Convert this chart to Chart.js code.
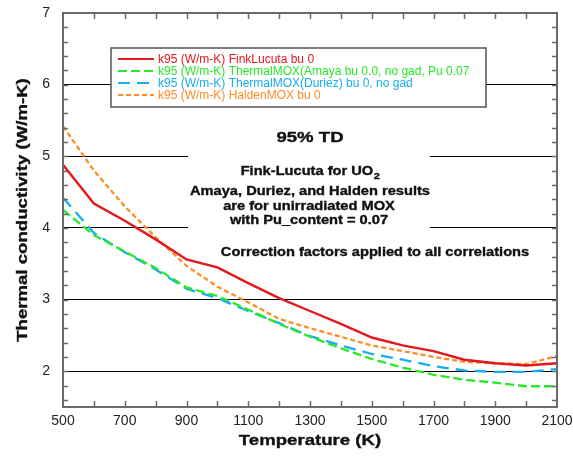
<!DOCTYPE html>
<html>
<head>
<meta charset="utf-8">
<script src="https://cdn.jsdelivr.net/npm/chart.js@4.4.1/dist/chart.umd.min.js"></script>
<style>
  html, body { margin: 0; padding: 0; background: #fff; }
  #chart { display: block; }
</style>
</head>
<body>
<canvas id="chart" width="573" height="456"></canvas>
<script>
// Temperature grid (K) and conductivity for each correlation (W/m-K)
const temperatures = [500, 600, 700, 800, 900, 1000, 1100, 1200, 1300, 1400, 1500, 1600, 1700, 1800, 1900, 2000, 2100];
const finkLucuta = [4.88, 4.34, 4.10, 3.84, 3.56, 3.45, 3.23, 3.02, 2.84, 2.66, 2.47, 2.36, 2.28, 2.16, 2.11, 2.08, 2.11];
const amayaMox = [4.25, 3.90, 3.67, 3.44, 3.17, 3.05, 2.86, 2.66, 2.48, 2.32, 2.17, 2.05, 1.95, 1.88, 1.84, 1.79, 1.79];
const duriezMox = [4.42, 3.93, 3.66, 3.42, 3.15, 3.02, 2.84, 2.67, 2.49, 2.36, 2.24, 2.16, 2.07, 2.01, 1.99, 1.99, 2.03];
const haldenMox = [5.42, 4.80, 4.30, 3.87, 3.47, 3.18, 2.96, 2.73, 2.60, 2.48, 2.36, 2.28, 2.20, 2.13, 2.11, 2.10, 2.21];

const xTickLabels = [500, 700, 900, 1100, 1300, 1500, 1700, 1900, 2100];
const yTickLabels = [2, 3, 4, 5, 6, 7];

const seriesNames = [
    'k95 (W/m-K) FinkLucuta bu 0',
    'k95 (W/m-K) ThermalMOX(Amaya bu 0.0, no gad, Pu 0.07',
    'k95 (W/m-K) ThermalMOX(Duriez) bu 0, no gad',
    'k95 (W/m-K) HaldenMOX bu 0'
];
const noteLines = [
    'Amaya, Duriez, and Halden results',
    'are for unirradiated MOX',
    'with Pu_content = 0.07'
];

const RED = 'rgb(226,24,28)';
const GREEN = 'rgb(40,232,40)';
const BLUE = 'rgb(24,172,240)';
const ORANGE = 'rgb(255,140,36)';
const FONT = '"Liberation Sans", Arial, Helvetica, sans-serif';

function points(values) {
    return temperatures.map((t, i) => ({ x: t, y: values[i] }));
}

// Bold labels are drawn slightly wide and heavy, like the original plot software
function wideText(ctx, text, x, y, size, align, stretch) {
    ctx.save();
    ctx.font = 'bold ' + size + 'px ' + FONT;
    const w = ctx.measureText(text).width * stretch;
    let left = x;
    if (align === 'center') left = x - w / 2;
    ctx.translate(left, y);
    ctx.scale(stretch, 1);
    ctx.textAlign = 'left';
    ctx.textBaseline = 'middle';
    ctx.fillText(text, 0, 0);
    ctx.strokeStyle = ctx.fillStyle;
    ctx.lineWidth = 0.35;
    ctx.strokeText(text, 0, 0);
    ctx.restore();
    return w;
}

// drop the extra room Chart.js keeps for edge labels so the plot area is exact
function noEdgePadding(scale) {
    scale.paddingLeft = 0;
    scale.paddingRight = 0;
    scale.paddingTop = 0;
    scale.paddingBottom = 0;
}

const frameAndNotes = {
    id: 'frameAndNotes',
    beforeDatasetsDraw(chart) {
        // white panel behind the notes hides the grid lines there
        const ctx = chart.ctx;
        ctx.save();
        ctx.fillStyle = '#fff';
        ctx.fillRect(188, 120, 242, 112);
        ctx.restore();
    },
    afterDraw(chart) {
        const ctx = chart.ctx;
        const area = chart.chartArea;
        const xs = chart.scales.x;
        const ys = chart.scales.y;

        // plot frame with inward ticks
        ctx.save();
        ctx.setLineDash([]);
        ctx.strokeStyle = '#6a6a6a';
        ctx.lineWidth = 1.5;
        ctx.beginPath();
        for (let t = 600; t < 2100; t += 100) {
            const px = Math.round(xs.getPixelForValue(t)) + 0.5;
            ctx.moveTo(px, area.bottom);
            ctx.lineTo(px, area.bottom - 6);
            ctx.moveTo(px, area.top);
            ctx.lineTo(px, area.top + 6);
        }
        for (let k = 8; k < 35; k++) {
            const py = Math.round(ys.getPixelForValue(k / 5)) + 0.5;
            ctx.moveTo(area.left, py);
            ctx.lineTo(area.left + 5, py);
            ctx.moveTo(area.right, py);
            ctx.lineTo(area.right - 5, py);
        }
        ctx.stroke();
        ctx.lineWidth = 2;
        ctx.beginPath();
        ctx.rect(area.left, area.top, area.right - area.left, area.bottom - area.top);
        ctx.stroke();
        ctx.restore();

        // legend box
        ctx.save();
        ctx.fillStyle = '#fff';
        ctx.fillRect(111, 48, 375, 59);
        ctx.strokeStyle = '#555';
        ctx.lineWidth = 1.5;
        ctx.strokeRect(111, 48, 375, 59);
        chart.data.datasets.forEach((ds, i) => {
            const y = 59 + i * 12;
            ctx.strokeStyle = ds.borderColor;
            ctx.lineWidth = 2;
            ctx.setLineDash(ds.borderDash || []);
            ctx.beginPath();
            ctx.moveTo(118, y);
            ctx.lineTo(154, y);
            ctx.stroke();
            ctx.setLineDash([]);
            ctx.fillStyle = ds.borderColor;
            ctx.font = '12px ' + FONT;
            ctx.textAlign = 'left';
            ctx.textBaseline = 'middle';
            ctx.fillText(seriesNames[i], 158, y + 0.5);
        });
        ctx.restore();

        // notes
        ctx.save();
        ctx.fillStyle = '#111';
        wideText(ctx, '95% TD', 310, 138, 15.5, 'center', 1.2);

        const head = 'Fink-Lucuta for UO';
        ctx.font = 'bold 12px ' + FONT;
        const hw = ctx.measureText(head).width * 1.22;
        ctx.font = 'bold 9px ' + FONT;
        const sw = ctx.measureText('2').width * 1.22;
        const hx = 310 - (hw + sw) / 2;
        wideText(ctx, head, hx, 172, 12, 'left', 1.22);
        wideText(ctx, '2', hx + hw + 0.5, 177, 9, 'left', 1.22);

        wideText(ctx, noteLines[0], 310, 192, 12, 'center', 1.22);
        wideText(ctx, noteLines[1], 309, 207, 12, 'center', 1.22);
        wideText(ctx, noteLines[2], 309, 221, 12, 'center', 1.22);
        wideText(ctx, 'Correction factors applied to all correlations', 375, 253, 12, 'center', 1.22);

        // axis titles
        wideText(ctx, 'Temperature (K)', (area.left + area.right) / 2, 441, 15.5, 'center', 1.2);
        ctx.translate(23, (area.top + area.bottom) / 2);
        ctx.rotate(-Math.PI / 2);
        wideText(ctx, 'Thermal conductivity (W/m-K)', 0, 0, 15.5, 'center', 1.2);
        ctx.restore();
    }
};

const ctx = document.getElementById('chart').getContext('2d');
const conductivityChart = new Chart(ctx, {
    type: 'line',
    data: {
        datasets: [
            { data: points(finkLucuta), borderColor: RED, borderWidth: 2.4 },
            { data: points(amayaMox), borderColor: GREEN, borderWidth: 2.3, borderDash: [9, 4] },
            { data: points(duriezMox), borderColor: BLUE, borderWidth: 2.3, borderDash: [12, 7] },
            { data: points(haldenMox), borderColor: ORANGE, borderWidth: 2.3, borderDash: [5, 3] }
        ]
    },
    options: {
        responsive: false,
        animation: false,
        devicePixelRatio: 1,
        elements: {
            point: { radius: 0 },
            line: { tension: 0, fill: false }
        },
        layout: { padding: { left: 0, top: 13, right: 16, bottom: 0 } },
        plugins: {
            legend: { display: false },
            tooltip: { enabled: false }
        },
        scales: {
            x: {
                type: 'linear',
                min: 500,
                max: 2100,
                afterBuildTicks: scale => { scale.ticks = xTickLabels.map(v => ({ value: v })); },
                afterFit: scale => { scale.height = 49; noEdgePadding(scale); },
                grid: { display: false, drawTicks: false },
                border: { display: false },
                ticks: {
                    padding: 6,
                    maxRotation: 0,
                    autoSkip: false,
                    color: '#222',
                    font: { family: FONT, size: 14 },
                    callback: v => String(v)
                }
            },
            y: {
                min: 1.5,
                max: 7,
                afterBuildTicks: scale => { scale.ticks = yTickLabels.map(v => ({ value: v })); },
                afterFit: scale => { scale.width = 63; noEdgePadding(scale); },
                grid: {
                    drawTicks: false,
                    lineWidth: 1,
                    color: c => (c.tick && c.tick.value === 7) ? 'rgba(0,0,0,0)' : '#000'
                },
                border: { display: false },
                ticks: {
                    padding: 13,
                    autoSkip: false,
                    color: '#222',
                    font: { family: FONT, size: 14 },
                    callback: v => String(v)
                }
            }
        }
    },
    plugins: [frameAndNotes]
});
</script>
</body>
</html>
